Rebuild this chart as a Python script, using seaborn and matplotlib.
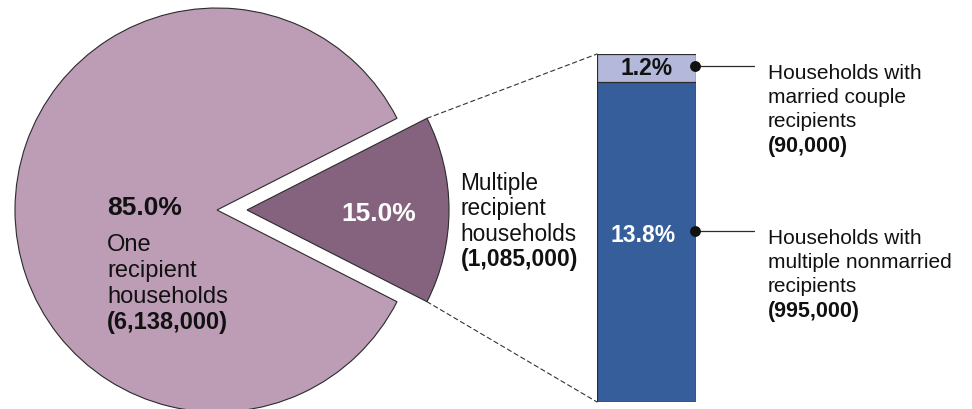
import matplotlib
matplotlib.use("Agg")
import matplotlib.pyplot as plt
from matplotlib.patches import ConnectionPatch
import seaborn as sns
import numpy as np

# ---- data ----
pie_labels = ["One\nrecipient\nhouseholds", "Multiple\nrecipient\nhouseholds"]
pie_pct = [85.0, 15.0]
pie_counts = ["6,138,000", "1,085,000"]

bar_labels = ["Households with\nmarried couple\nrecipients",
              "Households with\nmultiple nonmarried\nrecipients"]
bar_pct = [1.2, 13.8]
bar_counts = ["90,000", "995,000"]

sns.set_theme(style="white")
plt.rcParams["font.family"] = ["Liberation Sans", "DejaVu Sans"]

C_BIG = "#BD9CB6"
C_SMALL = "#85637F"
C_BAR_TOP = "#B4B9DB"
C_BAR_BOT = "#365E9B"
EDGE = "#2b2b2b"
TXT = "#111111"

W, H = 972, 410
fig = plt.figure(figsize=(W / 100, H / 100), dpi=100)

# overlay axes in pixel coordinates (y downward)
ax = fig.add_axes([0, 0, 1, 1])
half = pie_pct[1] / 100 * 360 / 2
wedges, _ = ax.pie(pie_pct, center=(217, 211), radius=202, startangle=half,
                   explode=[0, 30], colors=[C_BIG, C_SMALL],
                   wedgeprops=dict(edgecolor=EDGE, linewidth=0.8))
ax.set_xlim(0, W)
ax.set_ylim(H, 0)
ax.set_aspect("auto")
ax.axis("off")

# ---- stacked bar (seaborn) ----
bar_ax = fig.add_axes([597 / W, (H - 403) / H, 99 / W, 348 / H])
total = sum(bar_pct)
sns.barplot(x=["Multiple"], y=[total], color=C_BAR_TOP, width=1, saturation=1,
            edgecolor=EDGE, linewidth=0.9, ax=bar_ax)
sns.barplot(x=["Multiple"], y=[bar_pct[1]], color=C_BAR_BOT, width=1, saturation=1,
            edgecolor=EDGE, linewidth=0.9, ax=bar_ax)
bar_ax.set_xlim(-0.5, 0.5)
bar_ax.set_ylim(0, total)
bar_ax.axis("off")

# ---- dashed connectors from exploded wedge to bar ----
w = wedges[1]
cx, cy = w.center
pts = []
for th in (w.theta1, w.theta2):
    pts.append((cx + w.r * np.cos(np.radians(th)), cy + w.r * np.sin(np.radians(th))))
pts.sort(key=lambda p: p[1])  # upper (smaller y on screen) first
for p, yb in zip(pts, [total, 0]):
    con = ConnectionPatch(xyA=p, coordsA=ax.transData, xyB=(-0.5, yb),
                          coordsB=bar_ax.transData, color="#333333",
                          linewidth=0.8, linestyle=(0, (4, 3)))
    fig.add_artist(con)

# ---- pie texts ----
ax.text(107, 215, f"{pie_pct[0]:.1f}%", fontsize=19, fontweight="bold",
        color=TXT, va="baseline", ha="left")
for i, line in enumerate(pie_labels[0].split("\n")):
    ax.text(107, 251.5 + 26 * i, line, fontsize=17, color=TXT, va="baseline")
ax.text(107, 329, f"({pie_counts[0]})", fontsize=17, fontweight="bold",
        color=TXT, va="baseline")

ax.text(378.7, 220.7, f"{pie_pct[1]:.1f}%", fontsize=19, fontweight="bold",
        color="white", va="baseline", ha="center")
for i, line in enumerate(pie_labels[1].split("\n")):
    ax.text(460.5, 190 + 25.5 * i, line, fontsize=16.3, color=TXT, va="baseline")
ax.text(460.5, 266.5, f"({pie_counts[1]})", fontsize=16.5, fontweight="bold",
        color=TXT, va="baseline")

# ---- bar texts and callouts ----
bar_ax.text(0.0, 14.4, f"{bar_pct[0]:.1f}%", fontsize=16.5, fontweight="bold",
            color=TXT, ha="center", va="center")
bar_ax.text(-0.03, 7.2, f"{bar_pct[1]:.1f}%", fontsize=16.5, fontweight="bold",
            color="white", ha="center", va="center")

dot_y = [14.5, 7.35]
text_base = [79.3, 244.3]
for yv, lab, cnt, tb in zip(dot_y, bar_labels, bar_counts, text_base):
    bar_ax.plot([0.49, 1.09], [yv, yv], color=EDGE, linewidth=0.9,
                clip_on=False, zorder=5)
    bar_ax.plot([0.49], [yv], marker="o", markersize=6.8, color="#111111",
                clip_on=False, zorder=6)
    for i, line in enumerate(lab.split("\n")):
        ax.text(768, tb + 24 * i, line, fontsize=15, color=TXT, va="baseline")
    ax.text(768, tb + 72.5, f"({cnt})", fontsize=15.5, fontweight="bold",
            color=TXT, va="baseline")

fig.savefig("out.png", dpi=100)
